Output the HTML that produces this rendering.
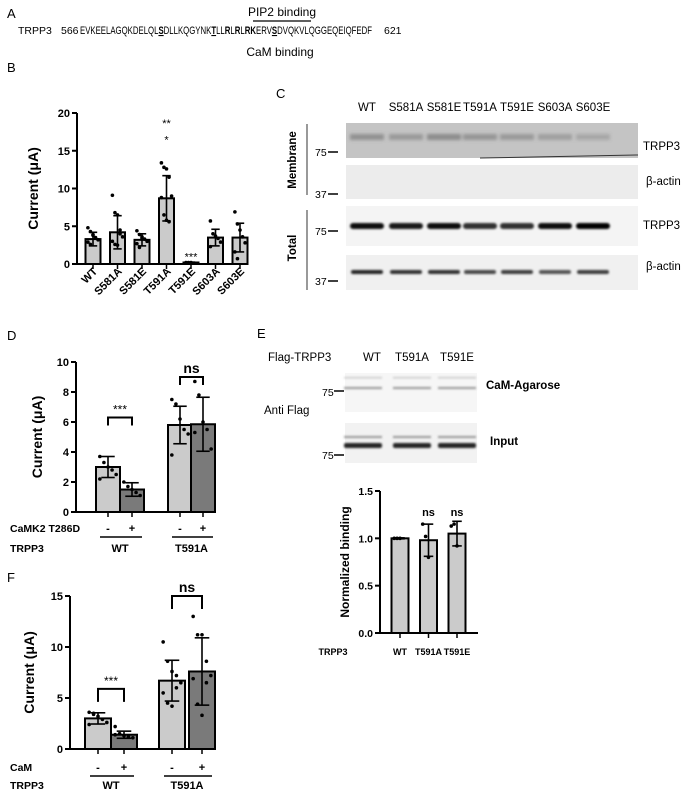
<!DOCTYPE html>
<html><head><meta charset="utf-8"><style>
html,body{margin:0;padding:0;background:#fff;}
svg{display:block;font-family:"Liberation Sans",Arial,sans-serif;}
.b{font-weight:bold;}
</style></head><body>
<svg id="fig" width="689" height="794" viewBox="0 0 689 794">
<defs>
<filter id="bl" x="-20%" y="-200%" width="140%" height="500%"><feGaussianBlur stdDeviation="1.6"/></filter>
<filter id="bl2" x="-20%" y="-200%" width="140%" height="500%"><feGaussianBlur stdDeviation="1"/></filter>
</defs>
<!-- Panel A -->
<g>
<text x="7" y="18" font-size="13">A</text>
<text x="282" y="16" font-size="12" text-anchor="middle">PIP2 binding</text>
<line x1="253" y1="21" x2="311" y2="21" stroke="#000" stroke-width="1.2"/>
<text x="18" y="34" font-size="10.5">TRPP3</text>
<text x="61" y="34" font-size="10.5">566</text>
<text x="80" y="34" font-size="11" textLength="292" lengthAdjust="spacingAndGlyphs">EVKEELAGQKDELQL<tspan font-weight="bold" text-decoration="underline">S</tspan>DLLKQGYNK<tspan font-weight="bold" text-decoration="underline">T</tspan>LL<tspan font-weight="bold">R</tspan>L<tspan font-weight="bold">R</tspan>L<tspan font-weight="bold">RK</tspan>ERV<tspan font-weight="bold" text-decoration="underline">S</tspan>DVQKVLQGGEQEIQFEDF</text>
<text x="384" y="34" font-size="10.5">621</text>
<text x="280" y="56" font-size="12" text-anchor="middle">CaM binding</text>
</g>
<text x="7" y="72" font-size="13">B</text>
<text x="276" y="98" font-size="13">C</text>
<text x="7" y="340" font-size="13">D</text>
<text x="257" y="338" font-size="13">E</text>
<text x="7" y="582" font-size="13">F</text>

<!-- Panel C blots -->
<g font-size="11.5">
<g text-anchor="middle">
<text x="367" y="111">WT</text><text x="406" y="111">S581A</text><text x="444" y="111">S581E</text><text x="480" y="111">T591A</text><text x="517" y="111">T591E</text><text x="555" y="111">S603A</text><text x="593" y="111">S603E</text>
</g>
<rect x="346" y="123" width="292" height="35" fill="#c4c4c4"/>
<g id="memb" filter="url(#bl)"></g>
<line x1="480" y1="158" x2="638" y2="155" stroke="#333" stroke-width="1"/>
<rect x="346" y="165" width="292" height="34" fill="#ececec"/>
<rect x="346" y="206" width="292" height="40" fill="#f4f4f4"/>
<rect x="346" y="255" width="292" height="35" fill="#f0f0f0"/>
<g id="totb" filter="url(#bl2)"></g>
<text x="643" y="150">TRPP3</text>
<text x="646" y="185">β-actin</text>
<text x="643" y="229">TRPP3</text>
<text x="646" y="270">β-actin</text>
<text transform="translate(296,160) rotate(-90)" text-anchor="middle" class="b" font-size="11.5">Membrane</text>
<text transform="translate(296,248) rotate(-90)" text-anchor="middle" class="b" font-size="11.5">Total</text>
<line x1="307" y1="124" x2="307" y2="195" stroke="#000" stroke-width="0.8"/>
<line x1="307" y1="210" x2="307" y2="290" stroke="#000" stroke-width="0.8"/>
<g font-size="10.5">
<text x="315" y="156">75</text><line x1="328" y1="152" x2="338" y2="152" stroke="#000" stroke-width="1.5"/>
<text x="315" y="198">37</text><line x1="328" y1="194" x2="338" y2="194" stroke="#000" stroke-width="1.5"/>
<text x="315" y="235">75</text><line x1="328" y1="231" x2="338" y2="231" stroke="#000" stroke-width="1.5"/>
<text x="315" y="285">37</text><line x1="328" y1="281" x2="338" y2="281" stroke="#000" stroke-width="1.5"/>
</g>
</g>

<!-- Panel E blots -->
<g font-size="11.5">
<text x="268" y="361">Flag-TRPP3</text>
<text x="372" y="361" text-anchor="middle">WT</text><text x="412" y="361" text-anchor="middle">T591A</text><text x="457" y="361" text-anchor="middle">T591E</text>
<rect x="345" y="373" width="132" height="39" fill="#f6f6f6"/>
<rect x="345" y="423" width="132" height="40" fill="#f2f2f2"/>
<g id="eb" filter="url(#bl2)"></g>
<text x="486" y="389" class="b">CaM-Agarose</text>
<text x="490" y="445" class="b">Input</text>
<text x="264" y="414">Anti Flag</text>
<text x="322" y="396" font-size="10.5">75</text><line x1="334" y1="391" x2="344" y2="391" stroke="#000" stroke-width="1.5"/>
<text x="322" y="459" font-size="10.5">75</text><line x1="334" y1="455" x2="344" y2="455" stroke="#000" stroke-width="1.5"/>
</g>

<g id="charts"></g>
</svg>
<script>
// ---------- chart data ----------
const bCats = ["WT","S581A","S581E","T591A","T591E","S603A","S603E"];
const bMeans = [3.3,4.2,3.2,8.7,0.2,3.5,3.5];
const bSD = [0.9,2.2,0.8,3.0,0.05,1.1,1.9];
const bPoints = [[4.8,4.3,3.8,3.5,3.2,2.9,2.6,3.9],[9.1,6.8,6.5,4.5,3.6,3.0,2.6,2.5,4.0],[4.4,3.9,3.6,3.3,3.0,2.7,2.2,3.4],[13.4,12.8,12.6,11.5,9.0,8.8,6.5,5.8,5.6],[0.2,0.2,0.2],[5.7,4.0,3.7,3.4,2.9,2.3],[6.9,5.3,4.5,3.6,2.8,1.6,0.7]];
const bTicks = [0,5,10,15,20];

const dCats = ["-","+","-","+"];
const dMeans = [3.0,1.5,5.8,5.85];
const dSD = [0.7,0.45,1.25,1.8];
const dPoints = [[3.7,3.3,3.0,2.8,2.5,2.2],[2.0,1.7,1.5,1.3,1.1],[7.5,7.2,6.2,5.5,5.2,3.8],[8.7,7.8,6.0,5.5,4.2,5.3]];
const dTicks = [0,2,4,6,8,10];

const eCats = ["WT","T591A","T591E"];
const eMeans = [1.0,0.98,1.05];
const eSD = [0.005,0.17,0.13];
const ePoints = [[1.0,1.0,1.0],[1.15,1.02,0.8],[1.13,1.15,0.92]];
const eTicks = [0,0.5,1.0,1.5];

const fCats = ["-","+","-","+"];
const fMeans = [3.0,1.4,6.7,7.6];
const fSD = [0.55,0.35,2.0,3.3];
const fPoints = [[3.6,3.4,3.2,2.9,2.6,2.4,3.5],[2.2,1.5,1.3,1.2,1.1,1.4],[10.5,8.6,7.6,7.2,6.5,5.5,4.5,4.2,6.0],[13.0,11.2,11.2,8.6,7.2,6.9,4.4,3.3,6.5]];
const fTicks = [0,5,10,15];

const NS = "http://www.w3.org/2000/svg";
const root = document.getElementById("charts");
function mk(tag, attrs, parent){ const e=document.createElementNS(NS,tag); for(const k in attrs) e.setAttribute(k,attrs[k]); (parent||root).appendChild(e); return e; }

function chart(o){
  const g = mk("g",{});
  
  
  const y = v => o.y0 - (v - o.ticks[0])/(o.ticks[o.ticks.length-1]-o.ticks[0])*(o.y0-o.y1);
  const xs = o.xs || o.means.map((m,i)=>o.xs0 + i*o.step);
  const x = i => xs[i];
  const ya = mk("line",{x1:o.ax,y1:o.y1,x2:o.ax,y2:o.y0+1,stroke:"#000","stroke-width":2},g);
  
  
  const xa = mk("line",{x1:o.ax,y1:o.y0,x2:o.xend,y2:o.y0,stroke:"#000","stroke-width":2},g);
  
  
  o.ticks.forEach(t=>{
    mk("line",{x1:o.ax-5,y1:y(t),x2:o.ax,y2:y(t),stroke:"#000","stroke-width":2},g);
    const tl = mk("text",{x:o.ax-7,y:y(t)+4,"font-size":o.fs,"font-weight":"bold","text-anchor":"end"},g);
    tl.textContent = o.fmt ? o.fmt(t) : t;
    
    
  });
  const yl = mk("text",{transform:`translate(${o.ylx},${(o.y0+o.y1)/2}) rotate(-90)`,"font-size":o.lfs,"font-weight":"bold","text-anchor":"middle"},g);
  yl.textContent = o.ylabel;
  
  
  o.means.forEach((m,i)=>{
    const cx = x(i);
    const fill = o.fills ? o.fills[i] : "#cbcbcb";
    const r = mk("rect",{x:cx-o.bw/2,y:y(m),width:o.bw,height:o.y0-y(m),fill:fill,stroke:"#000","stroke-width":2},g);
    
    
    mk("line",{x1:cx,y1:o.y0+1,x2:cx,y2:o.y0+5,stroke:"#000","stroke-width":1.5},g);
    o.points[i].forEach((p,j)=>{
      const off = ((j%5)-2)*o.bw*0.17;
      const c = mk("circle",{cx:cx+off,cy:y(p),r:1.8,fill:"#000"},g);
      
      
    });
    const sd=o.sd[i], hi=y(m+sd), lo=y(Math.max(0,m-sd)), w=o.bw*0.28;
    const eg = mk("g",{stroke:"#000","stroke-width":1.6},g);
    
    
    mk("line",{x1:cx,y1:hi,x2:cx,y2:lo},eg);
    mk("line",{x1:cx-w,y1:hi,x2:cx+w,y2:hi},eg);
    mk("line",{x1:cx-w,y1:lo,x2:cx+w,y2:lo},eg);
  });
  return {g,x,y};
}

// Panel B
const B = chart({name:"panel-b-chart",ticks:bTicks,means:bMeans,sd:bSD,points:bPoints,y0:264,y1:113,ax:77,xend:248,xs0:93,step:24.5,bw:15,fs:11,lfs:14,ylx:38,ylabel:"Current (μA)"});
bCats.forEach((c,i)=>{
  const t = mk("text",{transform:`translate(${B.x(i)+5},${272}) rotate(-45)`,"font-size":11,"font-weight":"bold","text-anchor":"end"},B.g);
  t.textContent = c;
  
  
});
[["**",B.y(18.8)],["*",B.y(16.6)]].forEach(a=>{const t=mk("text",{x:B.x(3),y:a[1]+5,"font-size":11,"text-anchor":"middle"},B.g);t.textContent=a[0];});
{const t=mk("text",{x:B.x(4),y:B.y(1)+4,"font-size":11,"text-anchor":"middle"},B.g);t.textContent="***";}

function groupLabels(C, top, lbl, y1, y2, y3){
  const l1 = mk("text",{x:10,y:y1,"font-size":10.5,"font-weight":"bold"},C.g); l1.textContent=top;
   
  const l2 = mk("text",{x:10,y:y3,"font-size":10.5,"font-weight":"bold"},C.g); l2.textContent="TRPP3";
   
  lbl.forEach((c,i)=>{const t=mk("text",{x:C.x(i),y:y1,"font-size":11,"font-weight":"bold","text-anchor":"middle"},C.g);t.textContent=c;});
  [[0,1,"WT"],[2,3,"T591A"]].forEach(p=>{
    mk("line",{x1:C.x(p[0])-8,y1:y2,x2:C.x(p[1])+10,y2:y2,stroke:"#000","stroke-width":1.5},C.g);
    const t=mk("text",{x:(C.x(p[0])+C.x(p[1]))/2,y:y3,"font-size":11,"font-weight":"bold","text-anchor":"middle"},C.g);t.textContent=p[2];
     
  });
}
function bracket(C,i,j,yv,txt,drop){
  const yy=C.y(yv);
  mk("path",{d:`M${C.x(i)} ${yy+drop} V${yy} H${C.x(j)} V${yy+drop}`,fill:"none",stroke:"#000","stroke-width":2},C.g);
  const t=mk("text",{x:(C.x(i)+C.x(j))/2,y:yy-4,"font-size":txt=="ns"?14:12,"font-weight":txt=="ns"?"bold":"normal","text-anchor":"middle"},C.g);
  t.textContent=txt;  
}

// Panel D
const D = chart({name:"panel-d-chart",ticks:dTicks,means:dMeans,sd:dSD,points:dPoints,y0:512,y1:362,ax:76,xend:215,xs:[108,132,180,203],bw:24,fs:11,lfs:14,ylx:42,ylabel:"Current (μA)",fills:["#cbcbcb","#7a7a7a","#cbcbcb","#7a7a7a"]});
groupLabels(D,"CaMK2 T286D",dCats,532,537,552);
bracket(D,0,1,6.3,"***",8);
bracket(D,2,3,9.0,"ns",8);

// Panel E chart
const E = chart({name:"panel-e-chart",ticks:eTicks,means:eMeans,sd:eSD,points:ePoints,y0:633,y1:491,ax:380,xend:478,xs0:400,step:28.5,bw:17,fs:10.5,lfs:12,ylx:349,ylabel:"Normalized binding",fmt:t=>t.toFixed(1)});
eCats.forEach((c,i)=>{const t=mk("text",{x:E.x(i),y:655,"font-size":9,"font-weight":"bold","text-anchor":"middle"},E.g);t.textContent=c;});
{const t=mk("text",{x:333,y:655,"font-size":9,"font-weight":"bold","text-anchor":"middle"},E.g);t.textContent="TRPP3";}
[1,2].forEach(i=>{const t=mk("text",{x:E.x(i),y:516,"font-size":11,"font-weight":"bold","text-anchor":"middle"},E.g);t.textContent="ns";});

// Panel F
const F = chart({name:"panel-f-chart",ticks:fTicks,means:fMeans,sd:fSD,points:fPoints,y0:749,y1:596,ax:70,xend:215,xs:[98,124,172,202],bw:26,fs:11,lfs:14,ylx:34,ylabel:"Current (μA)",fills:["#cbcbcb","#7a7a7a","#cbcbcb","#7a7a7a"]});
groupLabels(F,"CaM",fCats,771,776,789);
bracket(F,0,1,5.9,"***",13);
bracket(F,2,3,15,"ns",13);

// ---------- blot bands ----------
const laneX=[367,406,444,480,517,555,593];
const membInt=[0.55,0.45,0.6,0.5,0.45,0.4,0.3];
const totInt=[0.95,0.9,0.95,0.8,0.8,0.95,1.0];
const actInt=[0.85,0.8,0.8,0.7,0.75,0.65,0.75];
const mg=document.getElementById("memb"), tg=document.getElementById("totb"), eb=document.getElementById("eb");
laneX.forEach((lx,i)=>{
  mk("rect",{x:lx-17,y:134,width:34,height:6,fill:"#666","fill-opacity":membInt[i]},mg);
  const b1=mk("rect",{x:lx-17,y:223,width:34,height:6,rx:3,fill:"#000","fill-opacity":totInt[i]},tg);
   
  const b2=mk("rect",{x:lx-16,y:270,width:32,height:4,rx:2,fill:"#000","fill-opacity":actInt[i]},tg);
   
});
[363,412,457].forEach((lx,i)=>{
  mk("rect",{x:lx-19,y:387,width:38,height:2,fill:"#555","fill-opacity":0.6},eb);
  mk("rect",{x:lx-19,y:377,width:38,height:1.5,fill:"#999","fill-opacity":0.5},eb);
  mk("rect",{x:lx-19,y:436,width:38,height:2,fill:"#555","fill-opacity":0.6},eb);
  mk("rect",{x:lx-19,y:443,width:38,height:5,rx:2,fill:"#000","fill-opacity":0.85},eb);
});
</script>
</body></html>
